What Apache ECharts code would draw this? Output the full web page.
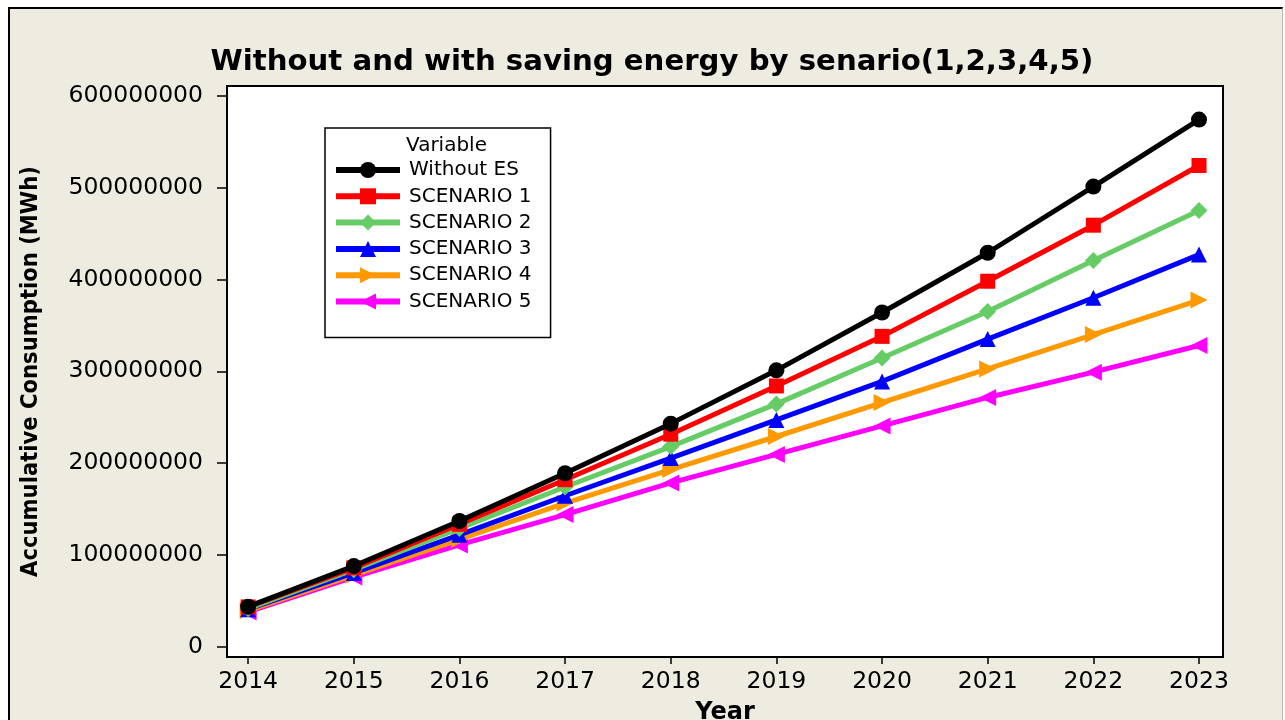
<!DOCTYPE html>
<html>
<head>
<meta charset="utf-8">
<script src="https://cdn.jsdelivr.net/npm/echarts@6/dist/echarts.min.js"></script>
<style>
  html, body { margin: 0; padding: 0; background: #ffffff; overflow: hidden; }
  #frame {
    position: absolute; left: 8px; top: 7px; width: 1272px; height: 720px;
    background: #eeebe1; border-left: 2px solid #000; border-top: 2px solid #000;
    border-right: 1px solid #b8b6ae;
  }
  #chart { position: absolute; left: 0; top: 0; width: 1285px; height: 720px; }
</style>
</head>
<body>
<div id="frame"></div>
<div id="chart"></div>
<script>
var years = [2014, 2015, 2016, 2017, 2018, 2019, 2020, 2021, 2022, 2023];
var yTicks = [0, 100000000, 200000000, 300000000, 400000000, 500000000, 600000000];

// values in millions of MWh
var withoutES = [43.8, 88, 137, 189, 243, 301, 364, 429, 501, 574];
var scenario1 = [43.5, 86, 133.5, 182, 231.5, 284, 338, 398, 459, 524];
var scenario2 = [41.5, 84, 129, 174, 218, 264.5, 314.5, 365, 420.5, 475];
var scenario3 = [41, 80.5, 122, 164.5, 205.5, 247, 289, 335, 380, 427];
var scenario4 = [39.5, 78, 117, 156.5, 193, 229, 266, 302.5, 340, 377.5];
var scenario5 = [38, 76, 111, 144, 178.5, 209.5, 240.5, 271.5, 299, 328];

var names = ['Without ES', 'SCENARIO 1', 'SCENARIO 2', 'SCENARIO 3', 'SCENARIO 4', 'SCENARIO 5'];
var colors = ['#000000', '#ff0000', '#66cc66', '#0000ff', '#ff9900', '#ff00ff'];
var symbols = ['circle', 'rect', 'diamond', 'triangle', 'triangle', 'triangle'];
var rotates = [0, 0, 0, 0, -90, 90];
var sizes = [16, 15, 17, 16, 17, 17];
var allData = [withoutES, scenario1, scenario2, scenario3, scenario4, scenario5];

var font = "'DejaVu Sans', Verdana, sans-serif";

var chart = echarts.init(document.getElementById('chart'));

var series = allData.map(function (vals, i) {
  return {
    name: names[i],
    type: 'line',
    data: vals.map(function (v, k) { return [years[k], v * 1000000]; }),
    symbol: symbols[i],
    symbolSize: sizes[i],
    symbolRotate: rotates[i],
    showAllSymbol: true,
    color: colors[i],
    lineStyle: { width: 5, color: colors[i] },
    itemStyle: { color: colors[i] },
    emphasis: { disabled: true },
    z: 10 - i
  };
});

var option = {
  animation: false,
  backgroundColor: 'transparent',
  textStyle: { fontFamily: font },
  title: {
    text: 'Without and with saving energy by senario(1,2,3,4,5)',
    left: 647,
    textAlign: 'center',
    top: 43,
    textStyle: { fontFamily: font, fontSize: 29.2, fontWeight: 'bold', color: '#000' }
  },
  legend: {
    orient: 'vertical',
    left: 325,
    top: 128,
    padding: [32, 19, 26, 8],
    itemWidth: 64,
    itemHeight: 20,
    itemGap: 6.3,
    backgroundColor: '#ffffff',
    borderColor: '#000000',
    borderWidth: 1.5,
    selectedMode: false,
    data: names,
    lineStyle: { width: 6 },
    textStyle: { fontFamily: font, fontSize: 20, color: '#000', lineHeight: 20, padding: [0, 0, 0, 4] }
  },
  graphic: [{
    type: 'text',
    left: 406,
    top: 136,
    z: 100,
    style: { text: 'Variable', font: '20px ' + font, fill: '#000' }
  }],
  grid: {
    left: 227,
    right: 62,
    top: 86,
    bottom: 63,
    outerBoundsMode: 'none',
    show: true,
    backgroundColor: '#ffffff',
    borderColor: '#000000',
    borderWidth: 2
  },
  xAxis: {
    type: 'value',
    min: 2013.8,
    max: 2023.227,
    name: 'Year',
    nameLocation: 'middle',
    nameGap: 44,
    nameTextStyle: { fontFamily: font, fontSize: 24, fontWeight: 'bold', color: '#000' },
    axisLine: { onZero: false, lineStyle: { color: '#000', width: 2 } },
    axisTick: { show: true, length: 7, customValues: years, lineStyle: { color: '#000', width: 1.5 } },
    axisLabel: {
      customValues: years, margin: 13, color: '#000', fontSize: 23.5, fontFamily: font,
      formatter: function (v) { return String(Math.round(v)); }
    },
    splitLine: { show: false }
  },
  yAxis: {
    type: 'value',
    min: -11000000,
    max: 610500000,
    name: 'Accumulative Consumption (MWh)',
    nameLocation: 'middle',
    nameGap: 184,
    nameTextStyle: {
      fontFamily: "'DejaVu Sans Condensed', 'Liberation Sans Narrow', sans-serif",
      fontSize: 23.5, fontWeight: 'bold', color: '#000'
    },
    axisLine: { onZero: false, lineStyle: { color: '#000', width: 2 } },
    axisTick: { show: true, length: 10, customValues: yTicks, lineStyle: { color: '#000', width: 1.5 } },
    axisLabel: {
      customValues: yTicks, margin: 24, color: '#000', fontSize: 23.5, fontFamily: font,
      formatter: function (v) { return String(Math.round(v)); }
    },
    splitLine: { show: false }
  },
  series: series
};

chart.setOption(option);
window.addEventListener('resize', chart.resize);
</script>
</body>
</html>
